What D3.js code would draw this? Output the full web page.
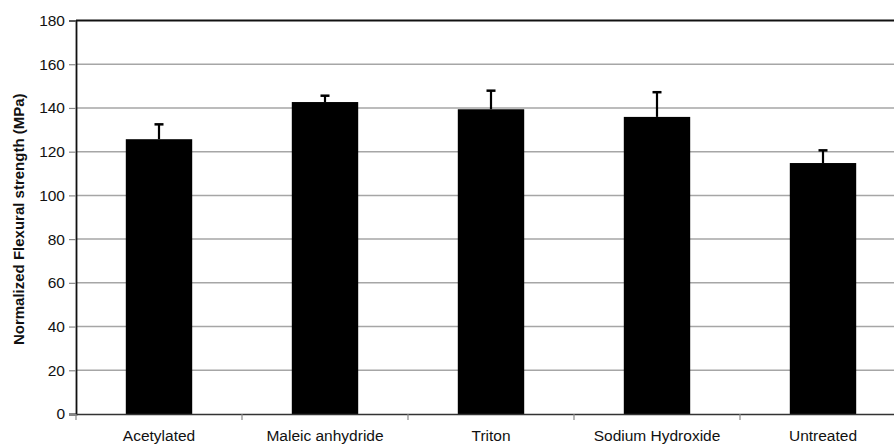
<!DOCTYPE html>
<html><head><meta charset="utf-8">
<script src="https://cdn.jsdelivr.net/npm/d3@7"></script>
<style>body{margin:0;background:#fff;overflow:hidden}svg{display:block}</style>
</head><body>
<svg id="c" width="894" height="446"></svg>
<script>
const categories = ["Acetylated","Maleic anhydride","Triton","Sodium Hydroxide","Untreated"];
const values = [125.7, 142.7, 139.4, 135.9, 114.8];
const errors = [6.8, 2.9, 8.5, 11.3, 5.8];
const yTicks = [0,20,40,60,80,100,120,140,160,180];
const yTitle = "Normalized Flexural strength (MPa)";

const svg = d3.select("#c");
const pLeft = 76, pRight = 906, pTop = 20.5, pBottom = 414;
const x = d3.scaleBand().domain(categories).range([pLeft, pRight]).paddingInner(0.6).paddingOuter(0.3);
const xb = d3.scaleBand().domain(categories).range([pLeft, pRight]);
const y = d3.scaleLinear().domain([0,180]).range([pBottom, pTop]);
const font = "'Liberation Sans', Arial, sans-serif";

// gridlines
svg.append("g").selectAll("line").data(yTicks.filter(d=>d>0 && d<180)).join("line")
  .attr("x1", pLeft).attr("x2", pRight).attr("y1", d=>y(d)).attr("y2", d=>y(d))
  .attr("stroke", "#a6a6a6").attr("stroke-width", 1.5);

// frame top
svg.append("line").attr("x1", pLeft).attr("x2", pRight).attr("y1", y(180)).attr("y2", y(180))
  .attr("stroke", "#111").attr("stroke-width", 1.8);

// bars
svg.append("g").selectAll("rect").data(categories).join("rect")
  .attr("x", d=>x(d)).attr("width", x.bandwidth())
  .attr("y", (d,i)=>y(values[i])).attr("height", (d,i)=>y(0)-y(values[i]))
  .attr("fill", "#000");

// error bars (upper only)
const eg = svg.append("g").attr("stroke", "#000").attr("stroke-width", 2.2);
categories.forEach((c,i)=>{
  const cx = x(c) + x.bandwidth()/2;
  eg.append("line").attr("x1", cx).attr("x2", cx).attr("y1", y(values[i])).attr("y2", y(values[i]+errors[i]));
  eg.append("line").attr("x1", cx-4.5).attr("x2", cx+4.5).attr("y1", y(values[i]+errors[i])).attr("y2", y(values[i]+errors[i])).attr("stroke-width", 2.5);
});

// y axis
const ya = svg.append("g").attr("transform", `translate(${pLeft},0)`)
  .call(d3.axisLeft(y).tickValues(yTicks).tickSize(7).tickPadding(4));
ya.select(".domain").attr("stroke", "#111").attr("stroke-width", 1.8);
ya.selectAll(".tick line").attr("stroke", "#888").attr("stroke-width", 1.2);
ya.selectAll("text").attr("font-family", font).attr("font-size", 15.5).attr("fill", "#111");

// x axis
const xa = svg.append("g").attr("transform", `translate(0,${pBottom})`)
  .call(d3.axisBottom(xb).tickSize(0).tickPadding(16));
xa.select(".domain").attr("stroke", "#333").attr("stroke-width", 1.5);
xa.selectAll("text").attr("font-family", font).attr("font-size", 15.5).attr("fill", "#111");
// boundary ticks
svg.append("g").selectAll("line").data(categories).join("line")
  .attr("x1", d=>xb(d)).attr("x2", d=>xb(d)).attr("y1", pBottom).attr("y2", pBottom+6)
  .attr("stroke", "#888").attr("stroke-width", 1.2);

// y title
svg.append("text").attr("transform", `translate(24,${(pTop+pBottom)/2 + 2}) rotate(-90)`)
  .attr("text-anchor", "middle").attr("font-family", font).attr("font-weight", "bold")
  .attr("font-size", 15).attr("fill", "#111").text(yTitle);
</script>
</body></html>
